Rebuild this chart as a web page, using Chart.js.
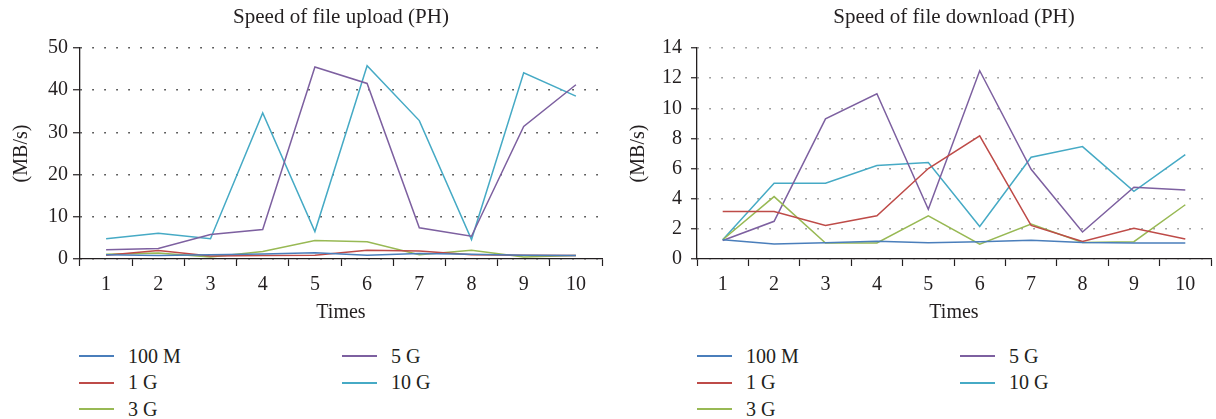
<!DOCTYPE html>
<html>
<head>
<meta charset="utf-8">
<script src="https://cdn.jsdelivr.net/npm/chart.js@4/dist/chart.umd.min.js"></script>
<style>
    html, body { margin: 0; padding: 0; background: #fff; }
    body {
        width: 1216px; height: 419px; position: relative; overflow: hidden;
        font-family: "Liberation Serif", serif; color: #231f20;
    }
    .box { position: absolute; top: 0; height: 330px; }
    #upBox { left: 0; width: 617px; }
    #downBox { left: 617px; width: 599px; }
    .legend {
        position: absolute; top: 343px; width: 540px;
        display: grid; grid-auto-flow: column;
        grid-template-rows: repeat(3, 26.5px);
        grid-template-columns: 263px 263px;
        font-size: 20px;
    }
    .item { display: flex; align-items: center; white-space: nowrap; }
    .swatch { width: 35px; height: 2px; margin-right: 14px; }
</style>
</head>
<body>
<div class="box" id="upBox"><canvas id="upload-chart"></canvas></div>
<div class="box" id="downBox"><canvas id="download-chart"></canvas></div>
<div class="legend" id="upLegend" style="left:79px"></div>
<div class="legend" id="downLegend" style="left:697px"></div>
<script>
const times = ["1", "2", "3", "4", "5", "6", "7", "8", "9", "10"];
const seriesNames = ["100 M", "1 G", "3 G", "5 G", "10 G"];
const seriesColors = ["#4a7ebb", "#be4b48", "#98b954", "#7d60a0", "#46aac5"];

// upload speed (MB/s)
const upload100M = [1.0, 0.8, 1.0, 1.2, 1.5, 0.9, 1.3, 1.1, 0.9, 0.8];
const upload1G = [0.9, 2.0, 0.7, 0.8, 0.9, 2.1, 1.9, 1.0, 0.9, 0.8];
const upload3G = [1.1, 1.4, 0.5, 1.8, 4.4, 4.1, 1.0, 2.1, 0.5, 0.8];
const upload5G = [2.2, 2.5, 5.8, 7.0, 45.5, 41.6, 7.4, 5.4, 31.4, 41.3];
const upload10G = [4.8, 6.1, 4.8, 34.6, 6.5, 45.8, 32.8, 4.6, 44.1, 38.6];

// download speed (MB/s)
const download100M = [1.28, 0.99, 1.08, 1.17, 1.08, 1.15, 1.24, 1.1, 1.06, 1.06];
const download1G = [3.15, 3.15, 2.23, 2.87, 6.0, 8.17, 2.23, 1.17, 2.04, 1.33];
const download3G = [1.28, 4.14, 1.06, 1.06, 2.87, 0.98, 2.32, 1.1, 1.15, 3.6];
const download5G = [1.23, 2.5, 9.3, 10.96, 3.3, 12.49, 5.95, 1.79, 4.76, 4.58];
const download10G = [1.28, 5.03, 5.03, 6.2, 6.4, 2.16, 6.75, 7.46, 4.49, 6.92];

const FONT = "'Liberation Serif', serif";
const TEXT = "#231f20";

const makeDatasets = (series) => series.map((values, i) => ({
    label: seriesNames[i],
    data: values,
    borderColor: seriesColors[i],
    backgroundColor: seriesColors[i],
    borderWidth: 1.5,
    pointRadius: 0,
    tension: 0,
}));

/**
 * Builds one line chart
 */
const drawSpeedChart = (id, title, series, yMax, yStep, opts) => {
    const element = document.getElementById(id);
    return new Chart(element, {
        type: "line",
        data: { labels: times, datasets: makeDatasets(series) },
        options: {
            responsive: true,
            maintainAspectRatio: false,
            animation: false,
            layout: { padding: { left: 0, right: opts.rightPad, top: 0, bottom: 0 } },
            plugins: {
                legend: { display: false },
                tooltip: { enabled: false },
                title: {
                    display: true,
                    fullSize: false,
                    text: title,
                    color: TEXT,
                    font: { family: FONT, size: 21, weight: "normal" },
                    padding: { top: 5, bottom: 17.8 },
                },
            },
            scales: {
                x: {
                    offset: true,
                    afterFit: (s) => { s.height = 71; },
                    grid: {
                        offset: true,
                        drawOnChartArea: false,
                        tickLength: 7,
                        color: "#231f20",
                        tickWidth: 1.2,
                    },
                    border: { color: "#231f20", width: 1.3 },
                    ticks: {
                        autoSkip: false, maxRotation: 0, padding: 7,
                        color: TEXT, font: { family: FONT, size: 20 },
                    },
                    title: {
                        display: true, text: "Times", color: TEXT,
                        font: { family: FONT, size: 20 },
                        padding: { top: 0, bottom: 5 },
                    },
                },
                y: {
                    min: 0,
                    max: yMax,
                    afterFit: (s) => { s.width = 80; },
                    grid: {
                        color: opts.dotColor,
                        lineWidth: 1.5,
                        tickLength: opts.tickLen,
                        tickColor: "#231f20",
                        tickWidth: 1.2,
                    },
                    border: { color: "#231f20", width: 1.3, dash: [1.5, 10.5] },
                    ticks: {
                        stepSize: yStep, padding: opts.labelPad,
                        color: TEXT, font: { family: FONT, size: 20 },
                    },
                    title: {
                        display: true, text: "(MB/s)", color: TEXT,
                        font: { family: FONT, size: 20 },
                        padding: { top: 10, bottom: 0 },
                    },
                },
            },
        },
    });
};

const buildLegend = (id) => {
    const el = document.getElementById(id);
    seriesNames.forEach((name, i) => {
        const item = document.createElement("div");
        item.className = "item";
        item.innerHTML = `<span class="swatch" style="background:${seriesColors[i]}"></span><span>${name}</span>`;
        el.appendChild(item);
    });
};

drawSpeedChart("upload-chart", "Speed of file upload (PH)",
    [upload100M, upload1G, upload3G, upload5G, upload10G], 50, 10,
    { rightPad: 15, dotColor: "#333", tickLen: 7, labelPad: 5 });

drawSpeedChart("download-chart", "Speed of file download (PH)",
    [download100M, download1G, download3G, download5G, download10G], 14, 2,
    { rightPad: 5, dotColor: "#888", tickLen: 6, labelPad: 9 });

buildLegend("upLegend");
buildLegend("downLegend");
</script>
</body>
</html>
